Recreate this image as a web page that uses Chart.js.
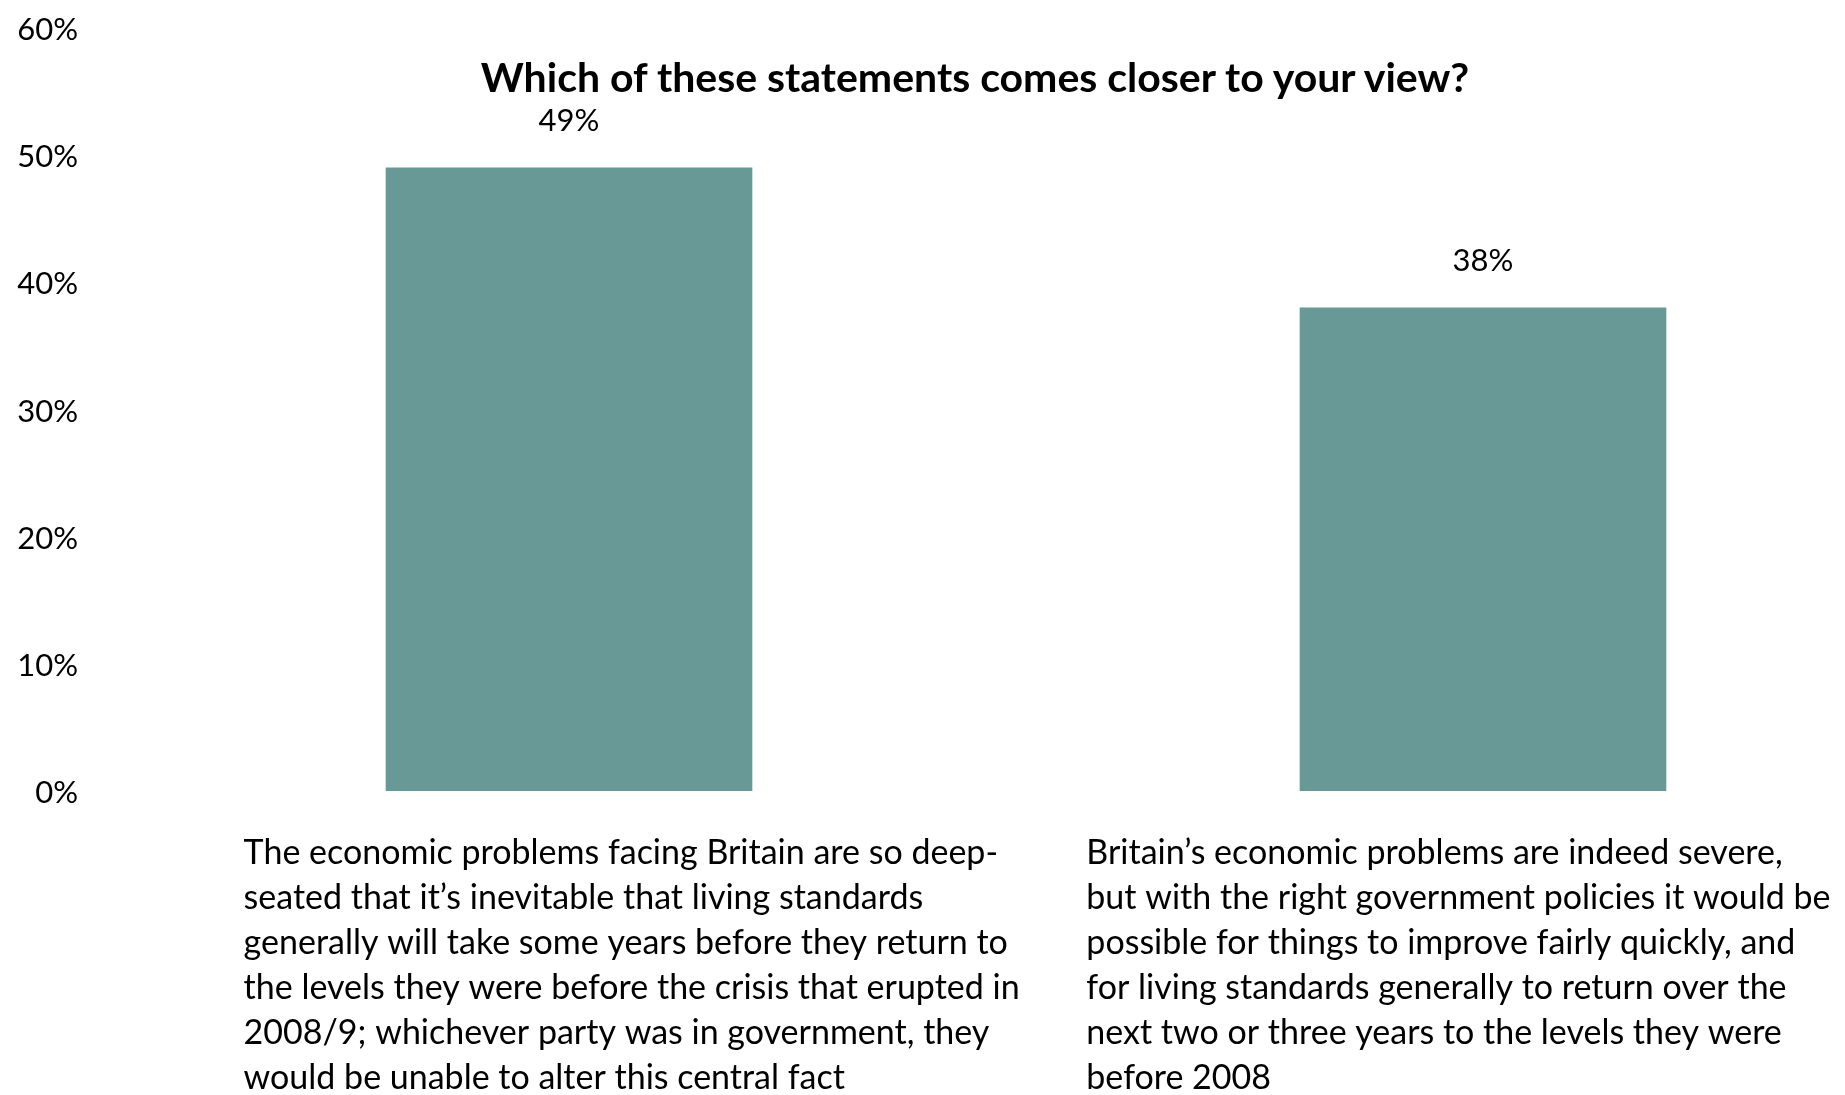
<!DOCTYPE html>
<html>
<head>
<meta charset="utf-8">
<title>Which of these statements comes closer to your view?</title>
<script src="https://cdn.jsdelivr.net/npm/chart.js@4.4.1/dist/chart.umd.min.js"></script>
<style>
  html, body { margin: 0; padding: 0; overflow: hidden; background: #fff; }
  .wrap { position: relative; width: 1950px; height: 1095px; }
  .wrap canvas { position: absolute; left: 0; top: 0; }
  h1 {
    position: absolute; left: 0; top: 56px; width: 1950px; margin: 0;
    text-align: center; font: bold 41px Lato, sans-serif; line-height: 41px; color: #000;
    z-index: 2;
  }
</style>
</head>
<body>
<div class="wrap">
  <h1>Which of these statements comes closer to your view?</h1>
  <canvas id="myChart" width="1950" height="1095"></canvas>
</div>
<script>
const statements = [
  [
    "The economic problems facing Britain are so deep-",
    "seated that it’s inevitable that living standards",
    "generally will take some years before they return to",
    "the levels they were before the crisis that erupted in",
    "2008/9; whichever party was in government, they",
    "would be unable to alter this central fact"
  ],
  [
    "Britain’s economic problems are indeed severe,",
    "but with the right government policies it would be",
    "possible for things to improve fairly quickly, and",
    "for living standards generally to return over the",
    "next two or three years to the levels they were",
    "before 2008"
  ]
];
const shares = [49, 38];
const yTickLabels = ["0%", "10%", "20%", "30%", "40%", "50%", "60%"];

// the statement text starts left of each bar centre (in category units)
const labelShift = [-0.356, -0.434];

const barColor = "#699997";
const textFont = "Lato, sans-serif";

const valueLabels = {
  id: "valueLabels",
  afterDatasetsDraw(chart) {
    const { ctx } = chart;
    const meta = chart.getDatasetMeta(0);
    ctx.save();
    ctx.font = `31px ${textFont}`;
    ctx.fillStyle = "#000";
    ctx.textAlign = "center";
    ctx.textBaseline = "middle";
    meta.data.forEach((bar, i) => {
      ctx.fillText(`${shares[i]}%`, bar.x, bar.y - 47);
    });
    ctx.restore();
  },
};

function renderGrafica() {
  const canvas = document.getElementById("myChart");
  const config = {
    type: "bar",
    data: {
      labels: statements,
      datasets: [
        {
          data: shares,
          backgroundColor: barColor,
          borderWidth: 0,
          barThickness: 366,
        },
      ],
    },
    options: {
      responsive: false,
      animation: false,
      layout: { padding: { top: 28, right: 10, left: 0, bottom: 0 } },
      plugins: {
        legend: { display: false },
        tooltip: { enabled: false },
        title: { display: false },
      },
      scales: {
        x: {
          grid: { display: false, drawTicks: false },
          border: { display: false },
          ticks: {
            autoSkip: false,
            maxRotation: 0,
            minRotation: 0,
            align: "start",
            padding: 40,
            color: "#000",
            font: { family: textFont, size: 34, lineHeight: "45px" },
            callback: (value, index) => statements[index],
          },
          afterBuildTicks: (axis) => {
            axis.ticks = axis.ticks.map((t, i) => ({ value: t.value + labelShift[i] }));
          },
          afterFit: (axis) => {
            axis.height = 304;
          },
        },
        y: {
          min: 0,
          max: 60,
          grid: { display: false, drawTicks: false },
          border: { display: false },
          ticks: {
            stepSize: 10,
            padding: 34,
            labelOffset: 2,
            color: "#000",
            font: { family: textFont, size: 31 },
            callback: (value, index) => yTickLabels[index],
          },
          afterFit: (axis) => {
            axis.width = 112;
            axis.paddingTop = 0;
            axis.paddingBottom = 0;
          },
        },
      },
    },
    plugins: [valueLabels],
  };
  return new Chart(canvas, config);
}

renderGrafica();
</script>
</body>
</html>
